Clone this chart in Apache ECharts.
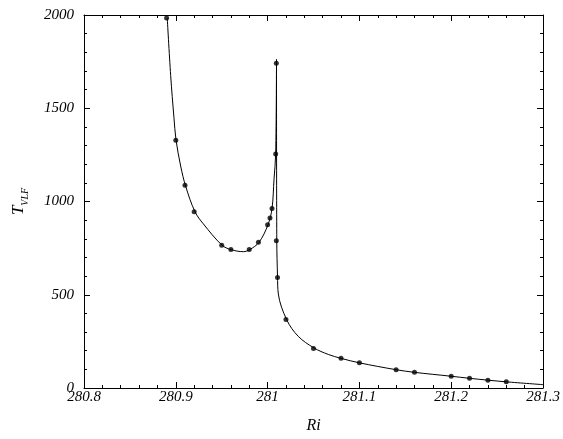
<!DOCTYPE html>
<html>
<head>
<meta charset="utf-8">
<script src="https://cdn.jsdelivr.net/npm/echarts@6/dist/echarts.min.js"></script>
<style>html,body{margin:0;padding:0;background:#fff}#c{width:563px;height:439px}</style>
</head>
<body>
<div id="c"></div>
<script>
// measured data points
const pointX = [280.89, 280.90, 280.91, 280.92, 280.95, 280.96, 280.98, 280.99, 281.00, 281.0026, 281.0048, 281.0095, 281.0088, 281.0095, 281.0108, 281.02, 281.05, 281.08, 281.10, 281.14, 281.16, 281.20, 281.22, 281.24, 281.26];
const pointY = [1984, 1328, 1087, 945, 766, 742, 742, 781, 875, 911, 962, 1741, 1255, 789, 593, 367, 212, 159, 135, 98, 84, 63, 52, 42, 33];
// fitted curve, left branch (up to the spike)
const leftX = [280.8907, 280.8944, 280.8980, 280.9002, 280.9053, 280.9108, 280.9209, 280.9300, 280.9503, 280.9601, 280.9736, 280.9805, 280.9906, 281.0004, 281.0048, 281.0070, 281.0088, 281.0097];
const leftY = [1983, 1676, 1449, 1332, 1190, 1081, 945, 880, 766, 742, 731, 742, 781, 875, 962, 1120, 1256, 1762];
// fitted curve, right branch (from the spike on)
const rightX = [281.0097, 281.0100, 281.0108, 281.0117, 281.0208, 281.0334, 281.0505, 281.0661, 281.08, 281.10, 281.14, 281.16, 281.20, 281.22, 281.24, 281.26, 281.30];
const rightY = [1762, 789, 600, 504, 366, 277, 215, 180, 159, 135, 98, 84, 63, 52, 42, 33, 18];
const xTicks = [280.8, 280.9, 281, 281.1, 281.2, 281.3];
const yTicks = [0, 500, 1000, 1500, 2000];

const font = '"Liberation Serif", "DejaVu Serif", serif';
const chart = echarts.init(document.getElementById('c'), null, {renderer: 'canvas'});
const axisCommon = {
  axisLine: {show: true, onZero: false, lineStyle: {color: '#000', width: 1}},
  axisTick: {show: true, inside: true, length: 6, lineStyle: {color: '#000'}},
  minorTick: {show: true, splitNumber: 5, length: 3, lineStyle: {color: '#000'}},
  splitLine: {show: false}
};
chart.setOption({
  animation: false,
  grid: {left: 84, right: 20, top: 15, bottom: 43},
  xAxis: [
    Object.assign({
      type: 'value', min: xTicks[0], max: xTicks[xTicks.length - 1], interval: 0.1,
      position: 'bottom',
      axisLabel: {color: '#000', fontFamily: font, fontStyle: 'italic', fontSize: 15, margin: 2,
        formatter: v => String(+v.toFixed(1))},
      name: 'Ri', nameLocation: 'middle', nameGap: 30,
      nameTextStyle: {color: '#000', fontFamily: font, fontStyle: 'italic', fontSize: 16}
    }, axisCommon),
    Object.assign({
      type: 'value', min: xTicks[0], max: xTicks[xTicks.length - 1], interval: 0.1,
      position: 'top', axisLabel: {show: false}
    }, axisCommon)
  ],
  yAxis: [
    Object.assign({
      type: 'value', min: yTicks[0], max: yTicks[yTicks.length - 1], interval: 500,
      position: 'left',
      axisLabel: {color: '#000', fontFamily: font, fontStyle: 'italic', fontSize: 15, margin: 10,
        formatter: v => String(v)},
      name: '{t|T}{s|VLF}', nameLocation: 'middle', nameGap: 54, nameRotate: 90,
      nameTextStyle: {
        rich: {
          t: {fontFamily: font, fontStyle: 'italic', fontSize: 17, color: '#000', verticalAlign: 'middle', lineHeight: 22},
          s: {fontFamily: font, fontStyle: 'italic', fontSize: 10, color: '#000', verticalAlign: 'bottom', lineHeight: 22, padding: [6, 0, 0, 0]}
        }
      }
    }, axisCommon),
    Object.assign({
      type: 'value', min: yTicks[0], max: yTicks[yTicks.length - 1], interval: 500,
      position: 'right', axisLabel: {show: false}
    }, axisCommon)
  ],
  series: [
    {
      type: 'line', xAxisIndex: 0, yAxisIndex: 0,
      data: leftX.map((x, i) => [x, leftY[i]]),
      showSymbol: false, smooth: 0.35,
      lineStyle: {color: '#000', width: 1}
    },
    {
      type: 'line', xAxisIndex: 0, yAxisIndex: 0,
      data: rightX.map((x, i) => [x, rightY[i]]),
      showSymbol: false, smooth: 0.35,
      lineStyle: {color: '#000', width: 1}
    },
    {
      type: 'scatter', xAxisIndex: 0, yAxisIndex: 0,
      data: pointX.map((x, i) => [x, pointY[i]]),
      symbol: 'circle', symbolSize: 5,
      itemStyle: {color: '#000'}
    }
  ]
});
</script>
</body>
</html>
